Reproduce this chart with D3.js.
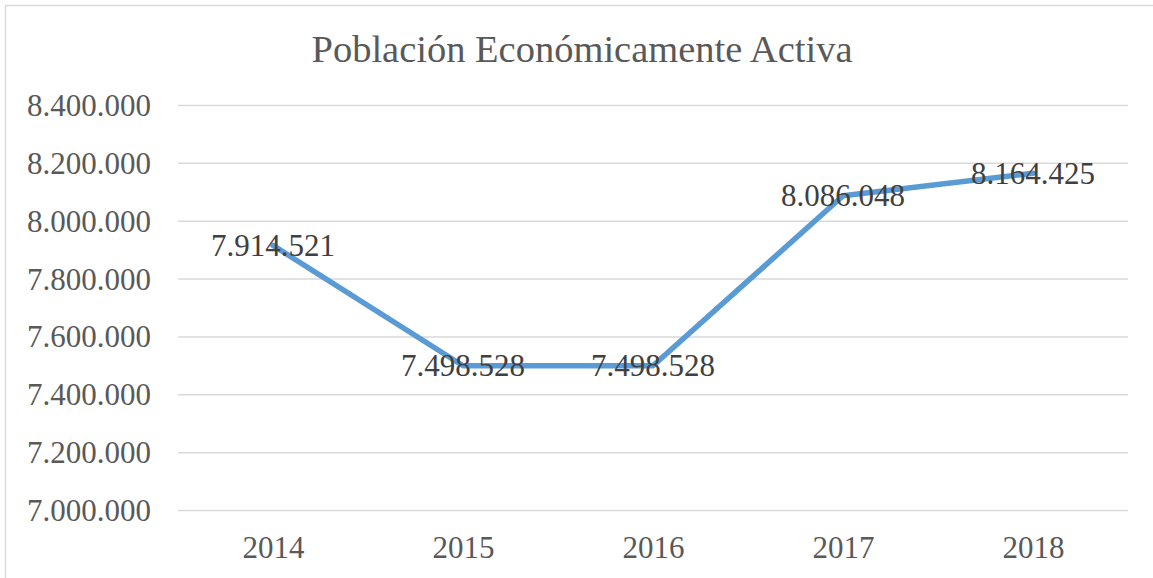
<!DOCTYPE html>
<html>
<head>
<meta charset="utf-8">
<script src="https://cdn.jsdelivr.net/npm/d3@7"></script>
<style>
  body { margin: 0; background: #fff; }
  svg text { font-family: "Liberation Serif", "Times New Roman", serif; }
</style>
</head>
<body>
<div id="viz"></div>
<script>
var years = ['2014', '2015', '2016', '2017', '2018'],
    pea = [7914521, 7498528, 7498528, 8086048, 8164425],
    yTicks = [7000000, 7200000, 7400000, 7600000, 7800000, 8000000, 8200000, 8400000],
    title = 'Población Económicamente Activa';

var width = 1153,
    height = 578,
    plotLeft = 178,
    plotRight = 1128,
    plotTop = 105,
    plotBottom = 510;

var fmt = function(v) {
    return d3.format(',')(v).replace(/,/g, '.');
};

var svg = d3.select('#viz').append('svg')
    .attr('width', width)
    .attr('height', height);

// chart border
svg.append('rect')
    .attr('x', 5.5).attr('y', 5.5)
    .attr('width', 1160).attr('height', 600)
    .attr('fill', 'none')
    .attr('stroke', '#d9d9d9')
    .attr('stroke-width', 1.5);

svg.append('text')
    .attr('x', 582)
    .attr('y', 62)
    .attr('text-anchor', 'middle')
    .style('font-size', '38.5px')
    .style('fill', '#595959')
    .text(title);

var x = d3.scalePoint()
    .domain(years)
    .range([plotLeft, plotRight])
    .padding(0.5);

var y = d3.scaleLinear()
    .domain([7000000, 8400000])
    .range([plotBottom, plotTop]);

var yAxis = d3.axisLeft(y)
    .tickValues(yTicks)
    .tickSize(-(plotRight - plotLeft))
    .tickPadding(27)
    .tickFormat(fmt);

var yGuide = svg.append('g')
    .attr('transform', 'translate(' + plotLeft + ',0)')
    .call(yAxis);

yGuide.select('.domain').remove();
yGuide.selectAll('line')
    .attr('stroke', '#d9d9d9')
    .attr('stroke-width', 1.5);
yGuide.selectAll('text')
    .style('font-size', '31px')
    .style('fill', '#595959')
    .attr('dy', '0.34em');

var xAxis = d3.axisBottom(x)
    .tickSize(0)
    .tickPadding(26);

var xGuide = svg.append('g')
    .attr('transform', 'translate(0,' + plotBottom + ')')
    .call(xAxis);

xGuide.select('.domain').remove();
xGuide.selectAll('text')
    .style('font-size', '31px')
    .style('fill', '#595959');

var line = d3.line()
    .x(function(d, i) { return x(years[i]); })
    .y(function(d) { return y(d); });

svg.append('path')
    .datum(pea)
    .attr('d', line)
    .attr('fill', 'none')
    .attr('stroke', '#5b9bd5')
    .attr('stroke-width', 5.5)
    .attr('stroke-linejoin', 'round')
    .attr('stroke-linecap', 'round');

svg.append('g')
    .selectAll('text')
    .data(pea)
    .enter().append('text')
    .attr('x', function(d, i) { return x(years[i]); })
    .attr('y', function(d) { return y(d); })
    .attr('dy', '0.34em')
    .attr('text-anchor', 'middle')
    .style('font-size', '31px')
    .style('fill', '#404040')
    .text(function(d) { return fmt(d); });
</script>
</body>
</html>
